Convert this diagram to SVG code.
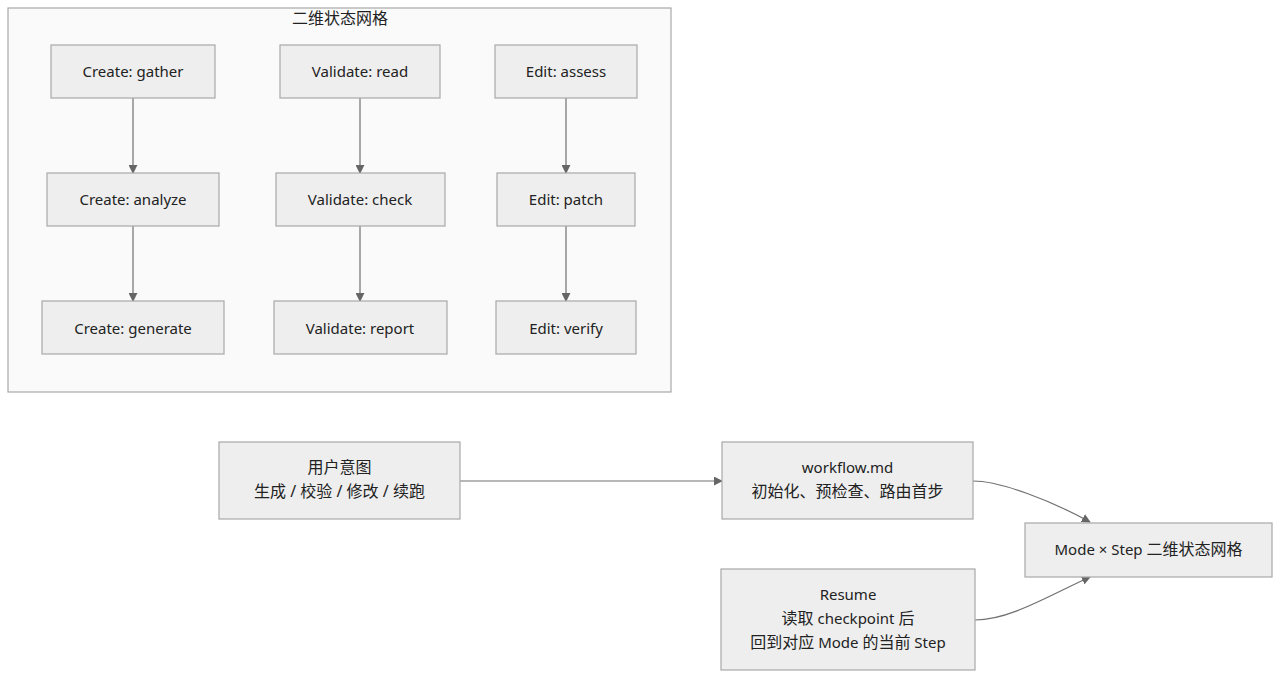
<svg xmlns="http://www.w3.org/2000/svg" width="1288" height="683" viewBox="0 0 1288 683">
<defs>
<style>
.node rect{fill:#eeeeee;stroke:#a8a8a8;stroke-width:1.2}
.cluster{fill:#fafafa;stroke:#a8a8a8;stroke-width:1.2}
text{font-family:"Noto Sans","Noto Sans CJK SC",sans-serif;font-size:15px;fill:#222;text-anchor:middle;dominant-baseline:central}
.c{font-size:16px}
.edge{fill:none;stroke:#707070;stroke-width:1.2}
</style>
<marker id="arr" viewBox="0 0 10 10" refX="9" refY="5" markerWidth="9" markerHeight="9" markerUnits="userSpaceOnUse" orient="auto">
<path d="M0,0 L10,5 L0,10 z" fill="#666"/>
</marker>
</defs>
<rect width="1288" height="683" fill="#ffffff"/>
<g id="cluster-grid">
<rect class="cluster" x="8" y="8" width="663" height="384"/>
<text x="340" y="18" class="c">二维状态网格</text>
</g>
<g id="connectors">
<line class="edge" x1="133" y1="98" x2="133" y2="173" marker-end="url(#arr)"/>
<line class="edge" x1="133" y1="226" x2="133" y2="301" marker-end="url(#arr)"/>
<line class="edge" x1="360" y1="98" x2="360" y2="173" marker-end="url(#arr)"/>
<line class="edge" x1="360" y1="226" x2="360" y2="301" marker-end="url(#arr)"/>
<line class="edge" x1="566" y1="98" x2="566" y2="173" marker-end="url(#arr)"/>
<line class="edge" x1="566" y1="226" x2="566" y2="301" marker-end="url(#arr)"/>
<line class="edge" x1="460" y1="481" x2="722" y2="481" marker-end="url(#arr)"/>
<path class="edge" d="M973,481 C1000,481 1050,500 1090,522" marker-end="url(#arr)"/>
<path class="edge" d="M975,620 C1010,620 1050,595 1090,577" marker-end="url(#arr)"/>
</g>
<g id="create-gather" class="node"><rect x="51" y="45" width="164" height="53"/><text x="133" y="71">Create: gather</text></g>
<g id="validate-read" class="node"><rect x="280" y="45" width="160" height="53"/><text x="360" y="71">Validate: read</text></g>
<g id="edit-assess" class="node"><rect x="495" y="45" width="142" height="53"/><text x="566" y="71">Edit: assess</text></g>
<g id="create-analyze" class="node"><rect x="47" y="173" width="172" height="53"/><text x="133" y="199">Create: analyze</text></g>
<g id="validate-check" class="node"><rect x="276" y="173" width="169" height="53"/><text x="360" y="199">Validate: check</text></g>
<g id="edit-patch" class="node"><rect x="497" y="173" width="138" height="53"/><text x="566" y="199">Edit: patch</text></g>
<g id="create-generate" class="node"><rect x="42" y="301" width="182" height="53"/><text x="133" y="327.5">Create: generate</text></g>
<g id="validate-report" class="node"><rect x="274" y="301" width="173" height="53"/><text x="360" y="327.5">Validate: report</text></g>
<g id="edit-verify" class="node"><rect x="496" y="301" width="140" height="53"/><text x="566" y="327.5">Edit: verify</text></g>
<g id="user-intent" class="node"><rect x="219" y="442" width="241" height="77"/><text x="339.5" y="467" class="c">用户意图</text><text x="339.5" y="491" class="c">生成 / 校验 / 修改 / 续跑</text></g>
<g id="workflow" class="node"><rect x="722" y="442" width="251" height="77"/><text x="847.5" y="467">workflow.md</text><text x="847.5" y="491" class="c">初始化、预检查、路由首步</text></g>
<g id="grid" class="node"><rect x="1025" y="523" width="247" height="54"/><text x="1148.5" y="549">Mode × Step <tspan class="c">二维状态网格</tspan></text></g>
<g id="resume" class="node"><rect x="721" y="569" width="254" height="101"/><text x="848" y="594">Resume</text><text x="848" y="618"><tspan class="c">读取</tspan> checkpoint <tspan class="c">后</tspan></text><text x="848" y="642"><tspan class="c">回到对应</tspan> Mode <tspan class="c">的当前</tspan> Step</text></g>
</svg>
